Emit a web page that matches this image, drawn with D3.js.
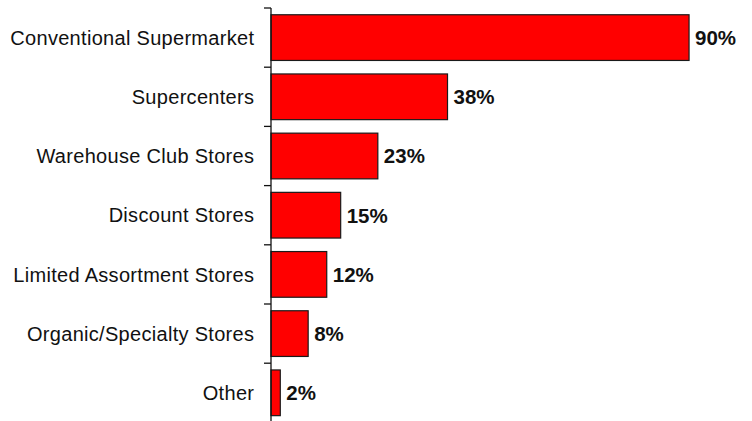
<!DOCTYPE html>
<html>
<head>
<meta charset="utf-8">
<script src="https://cdn.jsdelivr.net/npm/d3@7"></script>
<style>
  html, body { margin: 0; padding: 0; background: #fff; }
  svg { display: block; }
</style>
</head>
<body>
<svg id="chart" width="752" height="421"></svg>
<script>
// Store formats shoppers use (share of respondents, %)
const categories = [
  "Conventional Supermarket",
  "Supercenters",
  "Warehouse Club Stores",
  "Discount Stores",
  "Limited Assortment Stores",
  "Organic/Specialty Stores",
  "Other"
];
const values = [90, 38, 23, 15, 12, 8, 2];
const valueLabels = ["90%", "38%", "23%", "15%", "12%", "8%", "2%"];

const svg = d3.select("#chart");
const axisX = 271;
const plotTop = 8, bandStep = 59.2;

const y = d3.scaleBand()
  .domain(categories)
  .range([plotTop, plotTop + bandStep * categories.length])
  .paddingInner(0.228)
  .paddingOuter(0.114);

const x = d3.scaleLinear()
  .domain([0, 100])
  .range([axisX, axisX + 464.5]);

// bars
svg.append("g")
  .selectAll("rect")
  .data(values)
  .join("rect")
  .attr("x", x(0))
  .attr("y", (d, i) => y(categories[i]))
  .attr("width", d => x(d) - x(0))
  .attr("height", y.bandwidth())
  .attr("fill", "#ff0000")
  .attr("stroke", "#1a1a1a")
  .attr("stroke-width", 1.2);

// value labels
svg.append("g")
  .selectAll("text")
  .data(values)
  .join("text")
  .attr("x", d => x(d) + 6)
  .attr("y", (d, i) => y(categories[i]) + y.bandwidth() / 2)
  .attr("dy", "0.36em")
  .attr("font-family", "'Liberation Sans', Arial, sans-serif")
  .attr("font-weight", "bold")
  .attr("font-size", "20.5px")
  .attr("fill", "#111")
  .text((d, i) => valueLabels[i]);

// category labels
svg.append("g")
  .selectAll("text")
  .data(categories)
  .join("text")
  .attr("x", 254.3)
  .attr("y", d => y(d) + y.bandwidth() / 2)
  .attr("dy", "0.36em")
  .attr("text-anchor", "end")
  .attr("font-family", "'Liberation Sans', Arial, sans-serif")
  .attr("font-size", "20px")
  .attr("letter-spacing", "0.3px")
  .attr("fill", "#111")
  .text(d => d);

// category axis: vertical line with ticks at band boundaries
const axisG = svg.append("g").attr("stroke", "#111").attr("stroke-width", 1.3);
const bounds = d3.range(categories.length + 1).map(i => plotTop + i * y.step());
axisG.append("line")
  .attr("x1", axisX).attr("x2", axisX)
  .attr("y1", bounds[0]).attr("y2", bounds[bounds.length - 1]);
axisG.selectAll("line.tick")
  .data(bounds)
  .join("line")
  .attr("class", "tick")
  .attr("x1", axisX - 7).attr("x2", axisX)
  .attr("y1", d => d).attr("y2", d => d);
</script>
</body>
</html>
